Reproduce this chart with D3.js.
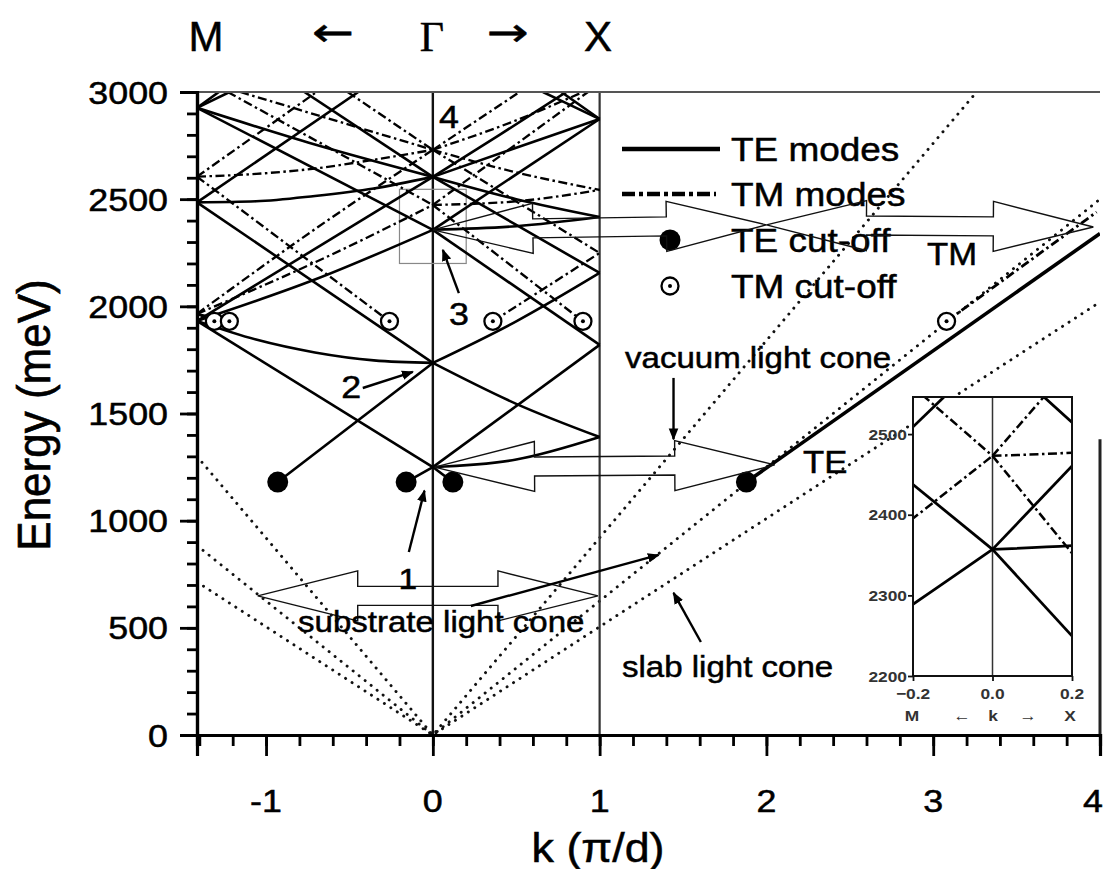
<!DOCTYPE html>
<html>
<head>
<meta charset="utf-8">
<script src="https://cdn.jsdelivr.net/npm/d3@7"></script>
<style>
  body { margin: 0; background: #fff; }
  svg { display: block; font-family: "Liberation Sans", Arial, sans-serif; }
</style>
</head>
<body>
<svg class="chart"></svg>
<script>
// k in units of pi/d (negative side = Gamma -> M), energy in meV
const xTicks = [-1, 0, 1, 2, 3, 4];
const yTicks = [0, 500, 1000, 1500, 2000, 2500, 3000];
const insetXTicks = [-0.2, 0, 0.2];
const insetYTicks = [2200, 2300, 2400, 2500];

// folded TE slab bands (solid)
const teBands = [
  [[0, 1250], [0.12, 1180]],
  [[0, 1250], [0.5, 1285], [1, 1390]],
  [[0, 1736], [0.5, 1545], [1, 1390]],
  [[0, 1250], [1, 1820]],
  [[0, 2357], [1, 1820]],
  [[0, 1736], [0.5, 1930], [1, 2156]],
  [[0, 2604], [0.5, 2380], [1, 2156]],
  [[0, 2357], [0.5, 2374], [1, 2417]],
  [[0, 2604], [0.5, 2500], [1, 2417]],
  [[0, 2357], [1, 2874]],
  [[0.77, 3000], [1, 2874]],
  [[0, 2604], [0.5, 2740], [1, 2874]],
  [[0.66, 3000], [0.8, 2948], [1, 2874]],
  [[0, 2604], [0.4, 2800], [0.8, 3000]],
  [[-0.16, 1180], [0, 1250]],
  [[-1.414, 1932], [0, 1250]],
  [[-0.93, 1180], [0, 1736]],
  [[-1.414, 2485], [0, 1736]],
  [[-1.414, 1932], [-1.06, 1845], [-0.707, 1785], [-0.354, 1748], [0, 1736]],
  [[-1.414, 2926], [0, 2357]],
  [[-1.414, 1932], [-0.707, 2125], [0, 2357]],
  [[-0.77, 3000], [0, 2604]],
  [[-1.414, 2926], [-0.707, 2755], [0, 2604]],
  [[-1.414, 2485], [-1.06, 2490], [-0.707, 2515], [-0.354, 2550], [0, 2604]],
  [[-1.414, 1932], [0, 2604]],
  [[-1.414, 2485], [-0.447, 3000]],
  [[-1.414, 2926], [-1.219, 3000]],
  [[-1.414, 2926], [-1.283, 3000]]
];

// folded TM slab bands (dash-dot)
const tmBands = [
  [[0, 2473], [0.9, 1930]],
  [[0.36, 1930], [1, 2249]],
  [[0, 2730], [1, 2249]],
  [[0, 2473], [0.5, 2490], [1, 2543]],
  [[0, 2730], [0.5, 2625], [1, 2543]],
  [[0, 2473], [0.93, 3000]],
  [[0, 2730], [0.5, 2868], [0.9, 3000]],
  [[0, 2730], [0.52, 3000]],
  [[-1.414, 2605], [-0.26, 1930]],
  [[-1.23, 3000], [0, 2473]],
  [[-1.414, 1965], [-0.707, 2205], [0, 2473]],
  [[-1.414, 1965], [-1.22, 1930]],
  [[-1.414, 1965], [-1.31, 1930]],
  [[-1.155, 3000], [0, 2730]],
  [[-1.414, 2605], [-1.06, 2618], [-0.707, 2643], [-0.354, 2684], [0, 2730]],
  [[-1.414, 1965], [-0.707, 2360], [0, 2730]],
  [[-0.511, 3000], [0, 2730]],
  [[-1.414, 2605], [-0.697, 3000]]
];

// unfolded guided modes
const teGuided = [[1.88, 1180], [4, 2340]];
const tmGuided = [[3.08, 1930], [3.98, 2440]];

const teCutoff = [[-0.93, 1180], [-0.16, 1180], [0.12, 1180], [1.88, 1180]];
const tmCutoff = [[-1.31, 1930], [-1.22, 1930], [-0.26, 1930], [0.36, 1930], [0.9, 1930], [3.08, 1930]];

// light cones
const vacuumCone = [[-1.414, 1300], [0, 0], [3.26, 3000]];
const substrateCone = [[-1.414, 884], [0, 0], [4, 2500]];
const slabCone = [[-1.414, 714], [0, 0], [4, 2020]];

// outlined double arrows linking equivalent points
const foldArrows = [
  [[0, 2357], [2.0, 2380]],
  [[2.0, 2380], [3.96, 2370]],
  [[0.01, 1250], [2.05, 1260]],
  [[-1.05, 649], [0.99, 649]]
];

const width = 1104, height = 869;
const x = d3.scaleLinear().domain([-1.414, 4]).range([197, 1100]);
const y = d3.scaleLinear().domain([0, 3000]).range([735, 92]);
const xi = d3.scaleLinear().domain([-0.2, 0.2]).range([913, 1072]);
const yi = d3.scaleLinear().domain([2200, 2546]).range([676, 397]);

const svg = d3.select(".chart").attr("width", width).attr("height", height);
const defs = svg.append("defs");

defs.append("clipPath").attr("id", "plot")
    .append("rect").attr("x", 197).attr("y", 92).attr("width", 903).attr("height", 643);
defs.append("clipPath").attr("id", "inset")
    .append("rect").attr("x", 913).attr("y", 397).attr("width", 159).attr("height", 279);
defs.append("marker").attr("id", "head")
    .attr("viewBox", "0 0 10 10").attr("refX", 9).attr("refY", 5)
    .attr("markerWidth", 5).attr("markerHeight", 5).attr("orient", "auto")
    .append("path").attr("d", "M0,1L10,5L0,9Z").attr("fill", "#000");

function label(g, px, py, str, size, anchor = "start", stretch = 1.12) {
    return g.append("text")
        .attr("transform", `translate(${px},${py}) scale(${stretch},1)`)
        .attr("text-anchor", anchor)
        .attr("font-size", size)
        .attr("fill", "#000")
        .attr("stroke", "#000").attr("stroke-width", 0.5)
        .text(str);
}

const curve = (sx, sy) => d3.line().x(d => sx(d[0])).y(d => sy(d[1])).curve(d3.curveMonotoneX);
const straight = (sx, sy) => d3.line().x(d => sx(d[0])).y(d => sy(d[1]));

const plot = svg.append("g").attr("clip-path", "url(#plot)");

// light cones
[vacuumCone, substrateCone, slabCone].forEach(c => {
    plot.append("path")
        .attr("d", straight(x, y)(c))
        .attr("fill", "none").attr("stroke", "#111")
        .attr("stroke-width", 2.9).attr("stroke-linecap", "round")
        .attr("stroke-dasharray", "0.1,7.6");
});

// Gamma and X verticals
plot.append("line").attr("x1", x(0)).attr("x2", x(0)).attr("y1", y(0)).attr("y2", y(3000))
    .attr("stroke", "#111").attr("stroke-width", 2.4);
plot.append("line").attr("x1", x(1)).attr("x2", x(1)).attr("y1", y(0)).attr("y2", y(3000))
    .attr("stroke", "#333").attr("stroke-width", 2.2);

// marker of inset region
plot.append("rect")
    .attr("x", x(-0.2)).attr("y", y(2546))
    .attr("width", x(0.2) - x(-0.2)).attr("height", y(2200) - y(2546))
    .attr("fill", "none").attr("stroke", "#888").attr("stroke-width", 1.2);

function drawBands(g, sx, sy, w) {
    g.selectAll(null).data(teBands).enter().append("path")
        .attr("d", curve(sx, sy))
        .attr("fill", "none").attr("stroke", "#000").attr("stroke-width", w);
    g.selectAll(null).data(tmBands).enter().append("path")
        .attr("d", curve(sx, sy))
        .attr("fill", "none").attr("stroke", "#000").attr("stroke-width", w * 0.9)
        .attr("stroke-dasharray", "9,3.5,2.5,3.5");
}
drawBands(plot, x, y, 2.6);

// guided modes outside first zone
plot.append("path").attr("d", straight(x, y)(teGuided))
    .attr("fill", "none").attr("stroke", "#000").attr("stroke-width", 3.6);
plot.append("path").attr("d", straight(x, y)(tmGuided))
    .attr("fill", "none").attr("stroke", "#000").attr("stroke-width", 2.8)
    .attr("stroke-dasharray", "9,3.5,2.5,3.5");

// cut-off symbols
svg.selectAll(".te-cut").data(teCutoff).enter().append("circle")
    .attr("class", "te-cut")
    .attr("cx", d => x(d[0])).attr("cy", d => y(d[1])).attr("r", 10.5).attr("fill", "#000");
const tmc = svg.selectAll(".tm-cut").data(tmCutoff).enter().append("g")
    .attr("class", "tm-cut")
    .attr("transform", d => `translate(${x(d[0])},${y(d[1])})`);
tmc.append("circle").attr("r", 8.5).attr("fill", "#fff").attr("stroke", "#000").attr("stroke-width", 2.3);
tmc.append("circle").attr("r", 2).attr("fill", "#000");

// legend
const leg = svg.append("g");
leg.append("line").attr("x1", 622).attr("x2", 720).attr("y1", 149).attr("y2", 149)
    .attr("stroke", "#000").attr("stroke-width", 4.5);
leg.append("line").attr("x1", 622).attr("x2", 716).attr("y1", 194).attr("y2", 194)
    .attr("stroke", "#000").attr("stroke-width", 4.5).attr("stroke-dasharray", "13,4,4,4");
leg.append("circle").attr("cx", 670).attr("cy", 240).attr("r", 10.5).attr("fill", "#000");
leg.append("circle").attr("cx", 670).attr("cy", 286).attr("r", 8.5)
    .attr("fill", "#fff").attr("stroke", "#000").attr("stroke-width", 2.3);
leg.append("circle").attr("cx", 670).attr("cy", 286).attr("r", 2).attr("fill", "#000");
label(leg, 731, 161, "TE modes", 33);
label(leg, 731, 206, "TM modes", 33);
label(leg, 731, 252, "TE cut-off", 33);
label(leg, 731, 298, "TM cut-off", 33);

// outlined double arrows
function blockArrow(p1, p2, head = 100, shaft = 9.5, wing = 25) {
    const [x1, y1] = p1, [x2, y2] = p2;
    const len = Math.hypot(x2 - x1, y2 - y1);
    const ux = (x2 - x1) / len, uy = (y2 - y1) / len;
    const nx = -uy, ny = ux;
    const at = (d, o) => [x1 + ux * d + nx * o, y1 + uy * d + ny * o];
    const pts = [at(0, 0), at(head, -wing), at(head, -shaft), at(len - head, -shaft),
        at(len - head, -wing), at(len, 0), at(len - head, wing), at(len - head, shaft),
        at(head, shaft), at(head, wing)];
    return "M" + pts.map(p => p.join(",")).join("L") + "Z";
}
svg.selectAll(".fold").data(foldArrows).enter().append("path")
    .attr("class", "fold")
    .attr("d", d => blockArrow([x(d[0][0]), y(d[0][1])], [x(d[1][0]), y(d[1][1])]))
    .attr("fill", "none").attr("stroke", "#111").attr("stroke-width", 1.4);

// annotations
const notes = svg.append("g");
function pointer(k1, e1, k2, e2) {
    notes.append("line")
        .attr("x1", x(k1)).attr("y1", y(e1)).attr("x2", x(k2)).attr("y2", y(e2))
        .attr("stroke", "#000").attr("stroke-width", 2.4).attr("marker-end", "url(#head)");
}
pointer(-0.144, 854, -0.05, 1140);
pointer(-0.42, 1619, -0.12, 1694);
pointer(0.156, 2062, 0.06, 2263);
pointer(1.443, 1666, 1.443, 1380);
pointer(0.228, 602, 1.354, 840);
pointer(1.607, 434, 1.443, 663);

label(notes, x(-0.15), y(680), "1", 30, "middle");
label(notes, x(-0.49), y(1570), "2", 32, "middle");
label(notes, x(0.156), y(1915), "3", 32, "middle");
label(notes, x(0.096), y(2830), "4", 32, "middle");
label(notes, 625, 368, "vacuum light cone", 29.5);
label(notes, 298, 632, "substrate light cone", 29.5);
label(notes, 622, 677, "slab light cone", 29.5);
label(notes, 803, 473, "TE", 31);
label(notes, 927, 265, "TM", 31);

// frame pieces
svg.append("line").attr("x1", 197).attr("x2", 1100).attr("y1", y(3000)).attr("y2", y(3000))
    .attr("stroke", "#555").attr("stroke-width", 2);
svg.append("line").attr("x1", 1100).attr("x2", 1100).attr("y1", y(1380)).attr("y2", y(0))
    .attr("stroke", "#222").attr("stroke-width", 3);

// axes
svg.append("g").attr("transform", "translate(197,0)")
    .call(d3.axisLeft(y).tickValues(d3.range(0, 3001, 100)).tickSize(10).tickFormat(""));
svg.append("g").attr("transform", "translate(197,0)")
    .call(d3.axisLeft(y).tickValues(yTicks).tickSize(17).tickFormat(""));
svg.append("g").attr("transform", "translate(0,735)")
    .call(d3.axisBottom(x).tickValues(d3.range(-7, 21).map(i => i / 5)).tickSize(11).tickFormat(""));
svg.append("g").attr("transform", "translate(0,735)")
    .call(d3.axisBottom(x).tickValues(xTicks).tickSize(21).tickFormat(""));
svg.selectAll(".domain").attr("stroke", "#000").attr("stroke-width", 3.2);
svg.selectAll(".tick line").attr("stroke", "#000").attr("stroke-width", 2.8);

const lab = svg.append("g");
yTicks.forEach(v => label(lab, 168, y(v) + 11.5, String(v), 32, "end"));
xTicks.forEach(v => v === 4
    ? label(lab, 1103, 812, String(v), 32, "end")
    : label(lab, x(v), 812, String(v), 32, "middle"));
label(lab, 598, 862, "k (\u03c0/d)", 40, "middle");
lab.append("text")
    .attr("transform", "translate(50,415) rotate(-90) scale(1,1.05)")
    .attr("text-anchor", "middle").attr("font-size", 44).attr("fill", "#000")
    .attr("stroke", "#000").attr("stroke-width", 0.6)
    .text("Energy (meV)");

// high-symmetry path labels on top
label(lab, 206, 51, "M", 42, "middle", 1);
label(lab, 333, 46, "\u2190", 40, "middle", 1.25).attr("font-family", "DejaVu Sans");
lab.append("text").attr("x", 432).attr("y", 51).attr("text-anchor", "middle")
    .attr("font-size", 42).attr("font-family", "Liberation Serif, serif").attr("fill", "#000")
    .attr("stroke", "#000").attr("stroke-width", 0.4)
    .text("\u0393");
label(lab, 508, 46, "\u2192", 40, "middle", 1.25).attr("font-family", "DejaVu Sans");
label(lab, 598, 51, "X", 42, "middle", 1);

// inset: zoom of the region around Gamma
const inset = svg.append("g");
inset.append("rect").attr("x", 913).attr("y", 397).attr("width", 159).attr("height", 279)
    .attr("fill", "#fff");
const ib = inset.append("g").attr("clip-path", "url(#inset)");
ib.append("line").attr("x1", xi(0)).attr("x2", xi(0)).attr("y1", yi(2200)).attr("y2", yi(2546))
    .attr("stroke", "#333").attr("stroke-width", 1.5);
drawBands(ib, xi, yi, 2.8);
inset.append("rect").attr("x", 913).attr("y", 397).attr("width", 159).attr("height", 279)
    .attr("fill", "none").attr("stroke", "#111").attr("stroke-width", 2);
inset.append("g").attr("transform", "translate(913,0)")
    .call(d3.axisLeft(yi).tickValues(insetYTicks).tickSize(5).tickFormat(""))
    .call(g => g.select(".domain").remove());
inset.append("g").attr("transform", "translate(0,676)")
    .call(d3.axisBottom(xi).tickValues(insetXTicks).tickSize(5).tickFormat(""))
    .call(g => g.select(".domain").remove());
inset.selectAll(".tick line").attr("stroke", "#111").attr("stroke-width", 1.8);
insetYTicks.forEach(v => label(inset, 907, yi(v) + 5.5, String(v), 15.5, "end").attr("font-weight", "bold").attr("fill", "#333").attr("stroke-width", 0));
insetXTicks.forEach(v => label(inset, xi(v), 699, d3.format(".1f")(v), 15.5, "middle").attr("font-weight", "bold").attr("fill", "#333").attr("stroke-width", 0));
[["M", 912], ["\u2190", 962], ["k", 993], ["\u2192", 1028], ["X", 1070]].forEach(([t, px]) =>
    label(inset, px, 721, t, 15.5, "middle").attr("font-weight", "bold").attr("fill", "#333").attr("stroke-width", 0));
</script>
</body>
</html>
